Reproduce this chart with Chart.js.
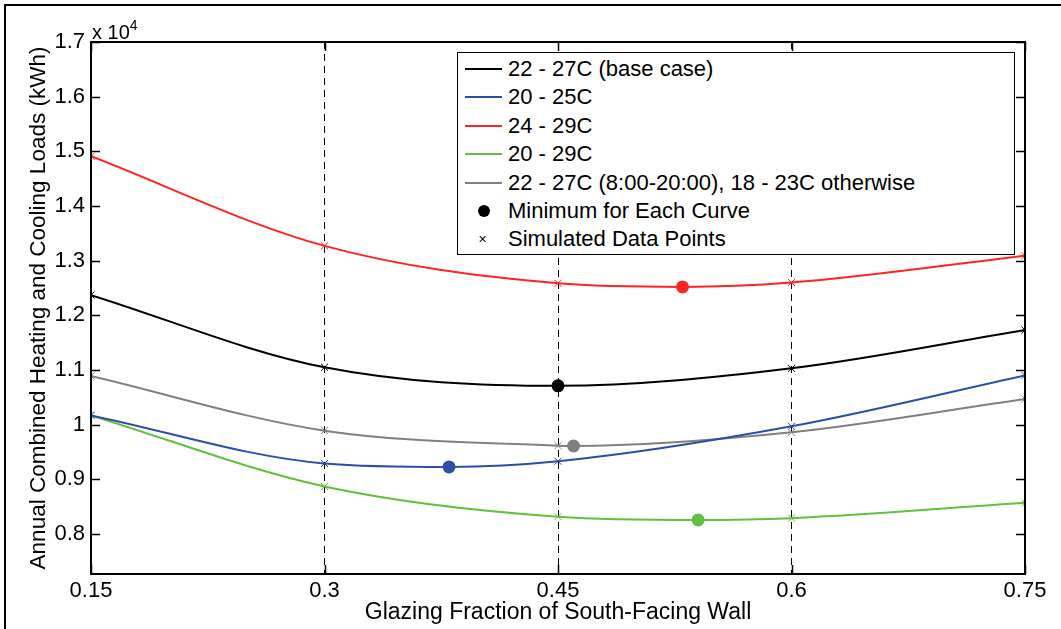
<!DOCTYPE html>
<html>
<head>
<meta charset="utf-8">
<script src="https://cdn.jsdelivr.net/npm/chart.js@4/dist/chart.umd.min.js"></script>
<style>
    body {
        margin: 0;
        background: #ffffff;
        font-family: "Liberation Sans", Arial, sans-serif;
    }
    #wrap {
        position: relative;
        width: 1061px;
        height: 629px;
        overflow: hidden;
    }
    #frame {
        position: absolute;
        left: 4px;
        top: 4px;
        width: 1100px;
        height: 700px;
        border: 2px solid #000000;
        pointer-events: none;
    }
    #exponent {
        position: absolute;
        left: 92px;
        top: 17px;
        font-size: 20px;
        color: #000000;
    }
    #exponent sup {
        font-size: 14px;
        vertical-align: 9px;
    }
    #legend {
        position: absolute;
        left: 457px;
        top: 52px;
        width: 556px;
        padding: 2px 0 0 0;
        border: 1px solid #000000;
        background: #ffffff;
    }
    .row {
        height: 28.4px;
        line-height: 28.4px;
        font-size: 22px;
        white-space: nowrap;
        display: flex;
        align-items: center;
    }
    .sample {
        width: 37px;
        margin: 0 6px 0 7px;
        position: relative;
        height: 28.4px;
    }
    .sample.line::after {
        content: "";
        position: absolute;
        left: 0;
        right: 0;
        top: 13px;
        height: 2px;
        background: var(--c);
    }
    .sample.dot::after {
        content: "";
        position: absolute;
        left: 13px;
        top: 8px;
        width: 12px;
        height: 12px;
        border-radius: 50%;
        background: #000000;
    }
    .sample.cross {
        font-size: 14px;
        text-align: center;
        padding-right: 2px;
        box-sizing: border-box;
    }
</style>
</head>
<body>
<div id="wrap">
    <canvas id="chart" width="1061" height="629"></canvas>
    <div id="exponent">x 10<sup>4</sup></div>
    <div id="legend"></div>
    <div id="frame"></div>
</div>
<script>
"use strict";

// Glazing fractions that were simulated (x-axis) and the tick values.
const glazing = [0.15, 0.3, 0.45, 0.6, 0.75];
const xTickValues = [0.15, 0.3, 0.45, 0.6, 0.75];
const yTickValues = [8000, 9000, 10000, 11000, 12000, 13000, 14000, 15000, 16000, 17000];

// Annual heating + cooling loads in kWh, one array per thermostat band.
const baseCase = [12370, 11050, 10710, 11030, 11730];
const lowBand = [10170, 9290, 9330, 9970, 10900];
const highBand = [14910, 13270, 12585, 12600, 13090];
const wideBand = [10170, 8870, 8317, 8290, 8570];
const setback = [10890, 9890, 9616, 9860, 10470];

// Minimum of each curve (glazing fraction and load).
const minGlazing = [0.45, 0.38, 0.53, 0.54, 0.46];
const minLoad = [10710, 9226, 12520, 8257, 9610];

const seriesNames = [
    "22 - 27C (base case)",
    "20 - 25C",
    "24 - 29C",
    "20 - 29C",
    "22 - 27C (8:00-20:00), 18 - 23C otherwise"
];
const seriesColors = ["#000000", "#2b4fa6", "#ff2424", "#62bf40", "#808080"];
const seriesLoads = [baseCase, lowBand, highBand, wideBand, setback];

const fontFamily = "'Liberation Sans', Arial, sans-serif";

// Curves go through the simulated points and the minimum of each curve.
const curveSets = seriesLoads.map((loads, i) => {
    const points = glazing.map((g, j) => ({ x: g, y: loads[j] }));
    if (!glazing.includes(minGlazing[i])) {
        points.push({ x: minGlazing[i], y: minLoad[i] });
    }
    points.sort((a, b) => a.x - b.x);
    return {
        data: points,
        borderColor: seriesColors[i],
        borderWidth: 2,
        pointRadius: 0,
        cubicInterpolationMode: "monotone",
        fill: false
    };
});

const crossSets = seriesLoads.map((loads, i) => ({
    data: glazing.map((g, j) => ({ x: g, y: loads[j] })),
    showLine: false,
    pointStyle: "crossRot",
    pointRadius: 5,
    borderColor: seriesColors[i],
    borderWidth: 1
}));

const minSets = seriesLoads.map((loads, i) => ({
    data: [{ x: minGlazing[i], y: minLoad[i] }],
    showLine: false,
    pointStyle: "circle",
    pointRadius: 6.5,
    borderWidth: 0,
    backgroundColor: seriesColors[i],
    borderColor: seriesColors[i]
}));

// MATLAB style box with inward ticks on all four sides.
const axesBox = {
    id: "axesBox",
    afterDraw(chart) {
        const ctx = chart.ctx;
        const area = chart.chartArea;
        const xScale = chart.scales.x;
        const yScale = chart.scales.y;
        const len = 9;
        ctx.save();
        ctx.strokeStyle = "#000000";
        ctx.lineWidth = 1.5;
        ctx.beginPath();
        yTickValues.forEach((v) => {
            const y = Math.round(yScale.getPixelForValue(v)) + 0.5;
            ctx.moveTo(area.left, y);
            ctx.lineTo(area.left + len, y);
            ctx.moveTo(area.right, y);
            ctx.lineTo(area.right - len, y);
        });
        xTickValues.forEach((v) => {
            const x = Math.round(xScale.getPixelForValue(v)) + 0.5;
            ctx.moveTo(x, area.bottom);
            ctx.lineTo(x, area.bottom - len);
            ctx.moveTo(x, area.top);
            ctx.lineTo(x, area.top + len);
        });
        ctx.stroke();
        ctx.lineWidth = 2;
        ctx.strokeRect(area.left, area.top, area.right - area.left, area.bottom - area.top);
        ctx.restore();
    }
};

new Chart(document.getElementById("chart"), {
    type: "line",
    data: {
        datasets: [...curveSets, ...crossSets, ...minSets]
    },
    options: {
        responsive: false,
        animation: false,
        layout: {
            padding: { top: 42, right: 36, left: 0, bottom: 0 }
        },
        scales: {
            x: {
                type: "linear",
                min: 0.15,
                max: 0.75,
                afterBuildTicks(scale) {
                    scale.ticks = xTickValues.map((v) => ({ value: v }));
                },
                afterFit(scale) {
                    scale.height = 55;
                },
                ticks: {
                    color: "#000000",
                    padding: 4,
                    maxRotation: 0,
                    font: { family: fontFamily, size: 22 },
                    callback: (v) => String(v)
                },
                grid: {
                    color: "#000000",
                    lineWidth: 1,
                    drawTicks: false
                },
                border: {
                    display: false,
                    dash: [7, 5]
                },
                title: {
                    display: true,
                    text: "Glazing Fraction of South-Facing Wall",
                    color: "#000000",
                    padding: { top: 0, bottom: 3 },
                    font: { family: fontFamily, size: 23 }
                }
            },
            y: {
                type: "linear",
                min: 7268,
                max: 17000,
                afterBuildTicks(scale) {
                    scale.ticks = yTickValues.map((v) => ({ value: v }));
                },
                afterFit(scale) {
                    scale.width = 91;
                },
                ticks: {
                    color: "#000000",
                    padding: 6,
                    font: { family: fontFamily, size: 22 },
                    callback: (v) => String(+(v / 10000).toFixed(2))
                },
                grid: {
                    display: false,
                    drawTicks: false
                },
                border: {
                    display: false
                },
                title: {
                    display: true,
                    text: "Annual Combined Heating and Cooling Loads (kWh)",
                    color: "#000000",
                    padding: { top: 25, bottom: 0 },
                    font: { family: fontFamily, size: 22.5 }
                }
            }
        },
        plugins: {
            legend: { display: false },
            tooltip: { enabled: false }
        }
    },
    plugins: [axesBox]
});

// Legend box in the upper right of the plot.
const legendRows = seriesNames.map((name, i) =>
    `<div class="row"><span class="sample line" style="--c:${seriesColors[i]}"></span>${name}</div>`
);
legendRows.push(`<div class="row"><span class="sample dot"></span>Minimum for Each Curve</div>`);
legendRows.push(`<div class="row"><span class="sample cross">&#215;</span>Simulated Data Points</div>`);
document.getElementById("legend").innerHTML = legendRows.join("");
</script>
</body>
</html>
